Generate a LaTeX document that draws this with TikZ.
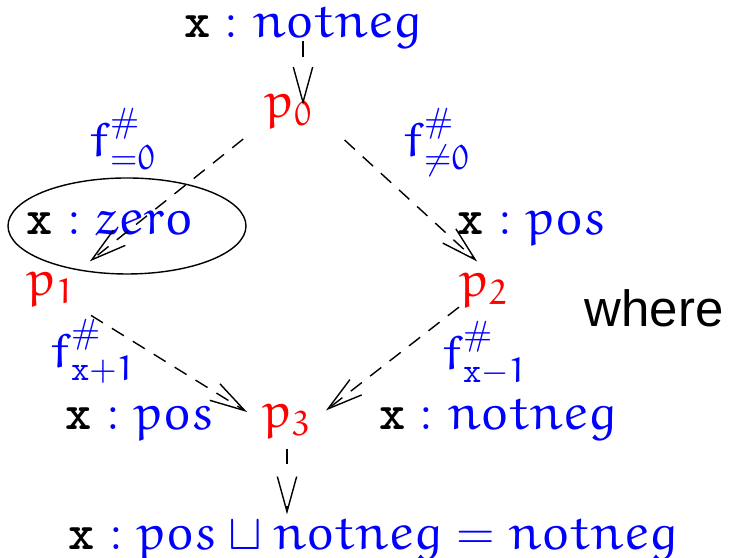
\documentclass[tikz,border=0pt]{standalone}
\usepackage{fontspec}
\usepackage{xcolor}
\usetikzlibrary{arrows.meta,calc,positioning}
\newfontfamily\wherefont{Liberation Sans}
\DeclareMathAlphabet{\matheu}{U}{eur}{m}{n}
\newcommand{\xvar}{\mbox{\color{black}\ttfamily\bfseries x}}

\begin{document}
\begin{tikzpicture}[>={Straight Barb[length=10pt,width=5.5pt]},
    every node/.style={font=\fontsize{14.2}{17}\selectfont,inner sep=0pt},
    lbl/.style={blue,anchor=base},
    pnt/.style={red,anchor=base},
    flow/.style={->,dash pattern=on 4pt off 3pt,shorten <=5pt,shorten >=5pt},
    vflow/.style={->,dash pattern=on 4.3pt off 12pt}]
  \useasboundingbox (0,0) rectangle (7.33,5.58);
  % program points
  \node[pnt] (p0) at (2.89,4.40) {$\matheu{p}_{\matheu{0}}$};
  \node[pnt] (p1) at (0.51,2.62) {$\matheu{p}_{\matheu{1}}$};
  \node[pnt] (p2) at (4.84,2.61) {$\matheu{p}_{\matheu{2}}$};
  \node[pnt] (p3) at (2.87,1.30) {$\matheu{p}_{\matheu{3}}$};
  % abstract values
  \node[lbl] (top) at (3.03,5.20) {$\xvar : \matheu{notneg}$};
  \node[lbl] (zero) at (1.10,3.23) {$\xvar : \matheu{zero}$};
  \node[lbl] (pos2) at (5.32,3.23) {$\xvar : \matheu{pos}$};
  \node[lbl] (pos3) at (1.40,1.28) {$\xvar : \matheu{pos}$};
  \node[lbl] (nn3) at (4.98,1.28) {$\xvar : \matheu{notneg}$};
  \node[lbl] (bot) at (3.73,0.08) {$\xvar : \matheu{pos} \sqcup \matheu{notneg} = \matheu{notneg}$};
  % transfer functions
  \node[lbl] (feq) at (1.23,4.01) {$\matheu{f}^{\#}_{=\matheu{0}}$};
  \node[lbl] (fne) at (4.37,4.01) {$\matheu{f}^{\#}_{\neq\matheu{0}}$};
  \node[lbl] (finc) at (0.93,1.90) {$\matheu{f}^{\#}_{\mathtt{x}+\matheu{1}}$};
  \node[lbl] (fdec) at (4.85,1.88) {$\matheu{f}^{\#}_{\mathtt{x}-\matheu{1}}$};
  \node[anchor=base,font=\fontsize{14.5}{17}\selectfont] (where) at (6.54,2.31) {\wherefont where};
  \draw (1.27,3.32) ellipse (1.19 and 0.48);
  % edges
  \draw[vflow,shorten <=1pt,shorten >=-3pt] (top.base) -- (top.base |- p0.north);
  \draw[flow] ([xshift=-2pt]p0.south west) -- (p1.north east);
  \draw[flow] ([xshift=5pt]p0.south east) -- (p2.70);
  \draw[flow] (p1.south east) -- (p3.west);
  \draw[flow,shorten <=0pt] (p2.south west) -- (p3.east);
  \draw[vflow,shorten <=3pt,shorten >=1pt] (p3.south) -- (p3.south |- bot.north);
\end{tikzpicture}
\end{document}
